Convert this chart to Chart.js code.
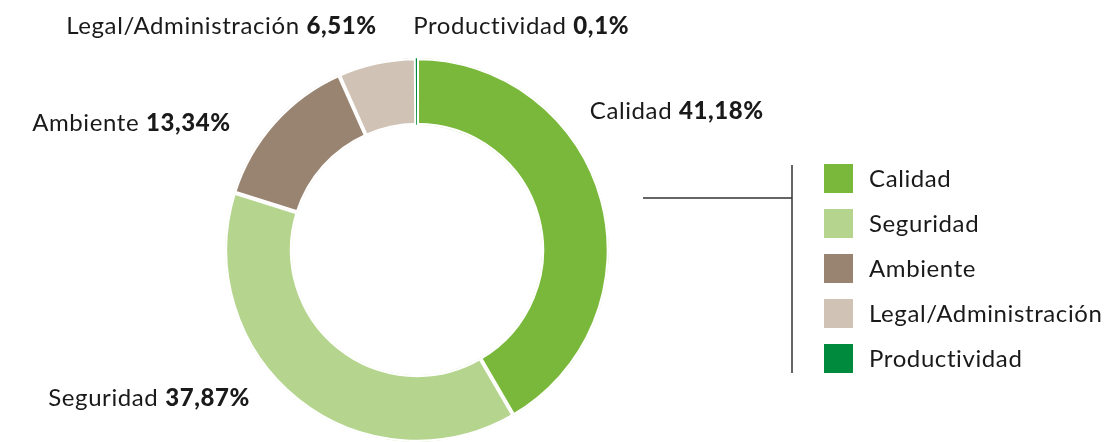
<!DOCTYPE html>
<html>
<head>
<meta charset="utf-8">
<script src="https://cdn.jsdelivr.net/npm/chart.js@4/dist/chart.umd.min.js"></script>
<style>
  html, body { margin: 0; padding: 0; background: #fff; }
  #wrap { width: 1109px; height: 442px; }
</style>
</head>
<body>
<div id="wrap"><canvas id="pieChart" width="1109" height="442"></canvas></div>
<script>
const categories = ['Calidad', 'Seguridad', 'Ambiente', 'Legal/Administración', 'Productividad'];
const shares = [41.18, 37.87, 13.34, 6.51, 0.1];
const sliceColors = ['#79b83a', '#b5d58e', '#998471', '#d0c3b6', '#008a3e'];

const FONT = 'Lato, "Noto Sans", sans-serif';

// where each outside label sits, relative to the doughnut centre (in outer radii)
const labelSpots = [
    { dx: 0.90, dy: -0.725, align: 'left' },
    { dx: -0.87, dy: 0.77, align: 'right' },
    { dx: -0.97, dy: -0.66, align: 'right' },
    { dx: -0.21, dy: -1.165, align: 'right' },
    { dx: -0.02, dy: -1.165, align: 'left' }
];

function pct(v) {
    return String(v).replace('.', ',') + '%';
}

const outsideLabels = {
    id: 'outsideLabels',
    afterDraw(chart) {
        const ctx = chart.ctx;
        const arc = chart.getDatasetMeta(0).data[0];
        const cx = arc.x, cy = arc.y, r = arc.outerRadius;
        ctx.save();
        ctx.letterSpacing = '0.6px';
        ctx.textBaseline = 'middle';
        ctx.fillStyle = '#1a1a1a';
        categories.forEach((name, i) => {
            const s = labelSpots[i];
            const x = cx + s.dx * r, y = cy + s.dy * r;
            const a = name + ' ';
            const b = pct(shares[i]);
            ctx.font = '400 24px ' + FONT;
            const wa = ctx.measureText(a).width;
            ctx.font = '900 24px ' + FONT;
            const wb = ctx.measureText(b).width;
            const x0 = s.align === 'left' ? x : x - wa - wb;
            ctx.textAlign = 'left';
            ctx.font = '400 24px ' + FONT;
            ctx.fillText(a, x0, y);
            ctx.font = '900 24px ' + FONT;
            ctx.fillText(b, x0 + wa, y);
        });

        // legend with bracket line
        const lx = 824, ly = 164, box = 29, step = 45;
        ctx.strokeStyle = '#333';
        ctx.lineWidth = 1.5;
        ctx.beginPath();
        ctx.moveTo(792, 165);
        ctx.lineTo(792, 373);
        ctx.moveTo(643, 198);
        ctx.lineTo(792, 198);
        ctx.stroke();
        categories.forEach((name, i) => {
            const y = ly + i * step;
            ctx.fillStyle = sliceColors[i];
            ctx.fillRect(lx, y, box, box);
            ctx.fillStyle = '#1a1a1a';
            ctx.font = '400 24px ' + FONT;
            ctx.textAlign = 'left';
            ctx.fillText(name, 869, y + box / 2 + 1);
        });
        ctx.restore();
    }
};

const pieChart = new Chart(document.getElementById('pieChart').getContext('2d'), {
    type: 'doughnut',
    data: {
        labels: categories,
        datasets: [{
            data: shares,
            backgroundColor: sliceColors,
            borderColor: '#ffffff',
            borderWidth: [2, 2, 2, 2, 0],
            borderAlign: 'inner',
            hoverOffset: 0
        }]
    },
    options: {
        responsive: false,
        animation: false,
        cutout: '65%',
        layout: {
            padding: { left: 225, right: 500, top: 58, bottom: 0 }
        },
        plugins: {
            legend: { display: false },
            tooltip: { enabled: false }
        }
    },
    plugins: [outsideLabels]
});
</script>
</body>
</html>
